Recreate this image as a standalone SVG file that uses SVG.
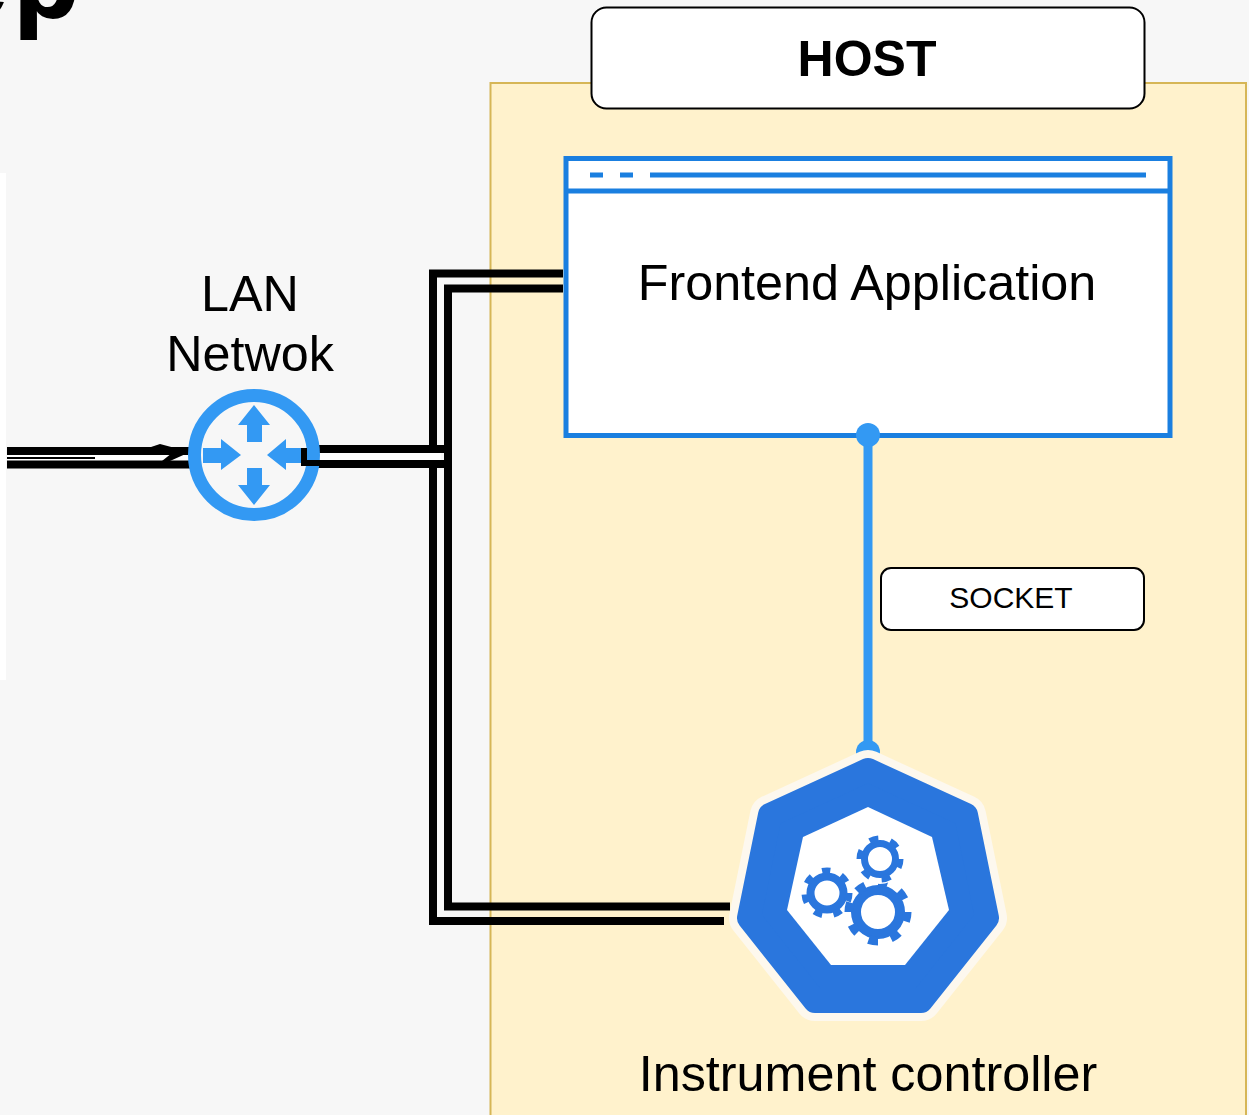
<svg xmlns="http://www.w3.org/2000/svg" width="1249" height="1115" viewBox="0 0 1249 1115">
<style>
text{font-family:"Liberation Sans",Arial,sans-serif;fill:#000;text-anchor:middle}
.lbl{font-size:50.300px}
.wire{fill:none;stroke:#000;stroke-width:8}
.sock{fill:none;stroke:#3399f3;stroke-width:9}
.arr{fill:#3399f3}
.gear{fill:none;stroke:#2a76dd}
</style>
<rect id="background" width="1249" height="1115" fill="#f7f7f7"/>
<rect x="0" y="173" width="6" height="507" fill="#fff"/>
<text x="-52" y="17" font-size="106" font-weight="700" letter-spacing="7" stroke="#000" stroke-width="2" style="text-anchor:start">ep</text>
<g id="host-area"><rect x="490.500" y="83" width="755.500" height="1040" fill="#fff2cc" stroke="#d6b656" stroke-width="2"/></g>
<g id="host-label"><rect x="591.500" y="7.500" width="553" height="101" rx="15" fill="#fff" stroke="#000" stroke-width="2"/><text x="867" y="76" font-size="50" font-weight="700">HOST</text></g>
<g id="frontend">
<rect x="566" y="158.500" width="604" height="277" fill="#fff" stroke="#1a7fe0" stroke-width="5"/>
<path d="M566 191H1170" fill="none" stroke="#1a7fe0" stroke-width="5"/>
<path d="M590 175H603M620 175H633M650 175H1146" fill="none" stroke="#1a7fe0" stroke-width="5"/>
<text class="lbl" x="867" y="300">Frontend Application</text>
</g>
<g id="connectors">
<path class="wire" d="M563 273.500H433V921H724"/>
<path class="wire" d="M563 288.500H448V906.500H730"/>
<path d="M320 449H441V464H320Z" fill="#fff"/>
<path class="wire" d="M316 449H448M316 464H448"/>
<path d="M7 454H190V461H7Z" fill="#fff"/>
<path class="wire" d="M7 451H190M7 464.500H190"/>
<path d="M7 457H95V459H7Z" fill="#000"/>
<path d="M145 449L160 444L190 452L170 461L162 461L172 453Z" fill="#000"/>
<path class="sock" d="M868 436V752"/>
<circle cx="868" cy="435" r="12" fill="#3399f3"/>
<circle cx="868" cy="752" r="12" fill="#3399f3"/>
</g>
<g id="router">
<circle cx="254" cy="455" r="59.500" fill="#f7f7f7" stroke="#3399f3" stroke-width="13"/>
<path class="arr" d="M254 405L270 425H262V442H247V425H238Z"/>
<path class="arr" d="M254 505L270 485H262V468H247V485H238Z"/>
<path class="arr" d="M241 455L221 470V463H203V448H221V439Z"/>
<path class="arr" d="M267 455L286 470V463H303V448H286V439Z"/>
<path d="M301 448H307V460H322V466H301Z" fill="#000"/>
<text class="lbl" x="250" y="311">LAN</text>
<text class="lbl" x="250" y="371">Netwok</text>
</g>
<g id="socket-label"><rect x="881" y="568" width="263" height="62" rx="10" fill="#fff" stroke="#000" stroke-width="2"/><text x="1011" y="608" font-size="30">SOCKET</text></g>
<g id="controller">
<path d="M868 770L966 815L987 918L921 1001H815L749 918L770 815Z" fill="#2a76dd" stroke="#fdf8ee" stroke-width="40" stroke-linejoin="round"/>
<path d="M868 770L966 815L987 918L921 1001H815L749 918L770 815Z" fill="#2a76dd" stroke="#2a76dd" stroke-width="24" stroke-linejoin="round"/>
<path d="M868 807L932 837L949 910L905 965H831L787 910L803 837Z" fill="#fff"/>
<circle class="gear" cx="878" cy="912" r="22" stroke-width="10"/>
<circle class="gear" cx="878" cy="912" r="29" stroke-width="9" pathLength="8" stroke-dasharray="0.42 0.58"/>
<circle cx="880" cy="859" r="25" fill="#fff"/>
<circle class="gear" cx="880" cy="859" r="15.500" stroke-width="7"/>
<circle class="gear" cx="880" cy="859" r="20" stroke-width="7" pathLength="6" stroke-dasharray="0.42 0.58"/>
<circle class="gear" cx="827" cy="893" r="16.500" stroke-width="8"/>
<circle class="gear" cx="827" cy="893" r="22" stroke-width="7" pathLength="7" stroke-dasharray="0.42 0.58"/>
<text class="lbl" x="868" y="1091">Instrument controller</text>
</g>
</svg>
